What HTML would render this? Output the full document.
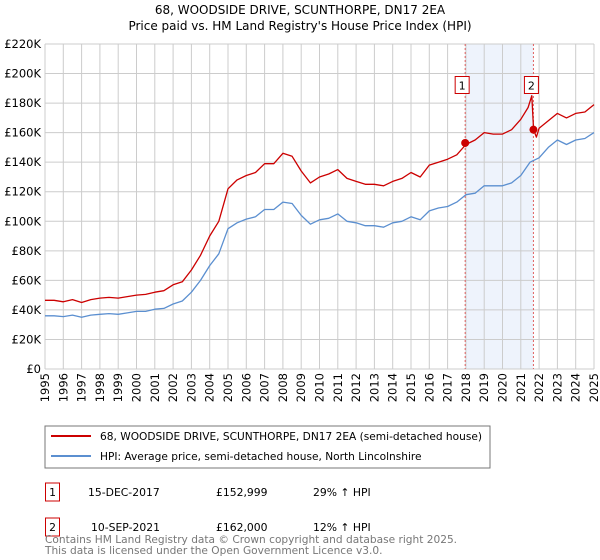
<!DOCTYPE html>
<html><head><meta charset="utf-8"><style>
body{margin:0;background:#fff;font-family:"Liberation Sans","DejaVu Sans",sans-serif;}
#wrap{position:relative;width:600px;height:560px;overflow:hidden;}
</style></head><body>
<div id="wrap">
<svg id="chart" width="600" height="560" font-family="'DejaVu Sans','Liberation Sans',sans-serif">
<text x="300" y="14" text-anchor="middle" font-size="12">68, WOODSIDE DRIVE, SCUNTHORPE, DN17 2EA</text>
<text x="300" y="30" text-anchor="middle" font-size="12">Price paid vs. HM Land Registry's House Price Index (HPI)</text>
<g id="grid"></g><g id="axes"></g><g id="series"></g>
<rect x="45" y="426" width="445" height="42" fill="#fff" stroke="#777"/>
<line x1="51" y1="436" x2="91" y2="436" stroke="#cc0000" stroke-width="2"/>
<text x="100" y="440" font-size="10.6">68, WOODSIDE DRIVE, SCUNTHORPE, DN17 2EA (semi-detached house)</text>
<line x1="51" y1="456" x2="91" y2="456" stroke="#5b8fd0" stroke-width="2"/>
<text x="100" y="460" font-size="10.6">HPI: Average price, semi-detached house, North Lincolnshire</text>
<g font-size="10.8">
<rect x="45.5" y="483" width="14" height="18" fill="none" stroke="#cc0000"/>
<text x="52.5" y="496" text-anchor="middle">1</text>
<text x="88" y="496">15-DEC-2017</text><text x="216" y="496">£152,999</text><text x="313" y="496">29% ↑ HPI</text>
<rect x="45.5" y="518" width="14" height="18" fill="none" stroke="#cc0000"/>
<text x="52.5" y="531" text-anchor="middle">2</text>
<text x="91" y="531">10-SEP-2021</text><text x="216" y="531">£162,000</text><text x="313" y="531">12% ↑ HPI</text>
</g>
<text x="45" y="543" font-size="10.6" fill="#777">Contains HM Land Registry data © Crown copyright and database right 2025.</text>
<text x="45" y="554" font-size="10.6" fill="#777">This data is licensed under the Open Government Licence v3.0.</text>
</svg></div>
<script>
const hpiYears=[1995,1995.5,1996,1996.5,1997,1997.5,1998,1998.5,1999,1999.5,2000,2000.5,2001,2001.5,2002,2002.5,2003,2003.5,2004,2004.5,2005,2005.5,2006,2006.5,2007,2007.5,2008,2008.5,2009,2009.5,2010,2010.5,2011,2011.5,2012,2012.5,2013,2013.5,2014,2014.5,2015,2015.5,2016,2016.5,2017,2017.5,2018,2018.5,2019,2019.5,2020,2020.5,2021,2021.5,2022,2022.5,2023,2023.5,2024,2024.5,2025];
const hpiValues=[36,36,35.5,36.5,35,36.5,37,37.5,37,38,39,39,40.5,41,44,46,52,60,70,78,95,99,101.5,103,108,108,113,112,104,98,101,102,105,100,99,97,97,96,99,100,103,101,107,109,110,113,118,119,124,124,124,126,131,140,143,150,155,152,155,156,160];
const priceYears=[1995,1995.5,1996,1996.5,1997,1997.5,1998,1998.5,1999,1999.5,2000,2000.5,2001,2001.5,2002,2002.5,2003,2003.5,2004,2004.5,2005,2005.5,2006,2006.5,2007,2007.5,2008,2008.5,2009,2009.5,2010,2010.5,2011,2011.5,2012,2012.5,2013,2013.5,2014,2014.5,2015,2015.5,2016,2016.5,2017,2017.5,2018,2018.5,2019,2019.5,2020,2020.5,2021,2021.4,2021.6,2021.7,2021.85,2022,2022.5,2023,2023.5,2024,2024.5,2025];
const priceValues=[46.5,46.5,45.5,47,45,47,48,48.5,48,49,50,50.5,52,53,57,59,67,77,90,100,122,128,131,133,139,139,146,144,134,126,130,132,135,129,127,125,125,124,127,129,133,130,138,140,142,145,152,155,160,159,159,162,169,177,185,162,157,163,168,173,170,173,174,179];
const saleYears=[2017.96,2021.69];
const saleValues=[152.999,162];
const yTicks=[0,20,40,60,80,100,120,140,160,180,200,220];
const xTicks=[1995,1996,1997,1998,1999,2000,2001,2002,2003,2004,2005,2006,2007,2008,2009,2010,2011,2012,2013,2014,2015,2016,2017,2018,2019,2020,2021,2022,2023,2024,2025];
const X0=45,X1=594,Y0=369,Y1=44;
const xs=y=>X0+(y-1995)/30*(X1-X0);
const ys=v=>Y0-v/220*(Y0-Y1);
const NS='http://www.w3.org/2000/svg';
function mk(p,t,a){const e=document.createElementNS(NS,t);for(const k in a)e.setAttribute(k,a[k]);p.appendChild(e);return e;}
const grid=document.getElementById('grid'),axes=document.getElementById('axes'),ser=document.getElementById('series');
const sh=mk(grid,'rect',{x:xs(saleYears[0]),y:Y1,width:xs(saleYears[1])-xs(saleYears[0]),height:Y0-Y1,fill:'#eef3fc'});


yTicks.forEach(v=>{
 const l=mk(grid,'line',{x1:X0,x2:X1,y1:ys(v),y2:ys(v),stroke:'#cccccc'});
 
 
 const t=mk(axes,'text',{x:X0-4,y:ys(v)+4,'text-anchor':'end','font-size':'11.5'});
 
 
 t.textContent=v===0?'£0':'£'+v+'K';
});
xTicks.forEach(v=>{
 const l=mk(grid,'line',{x1:xs(v),x2:xs(v),y1:Y1,y2:Y0,stroke:'#cccccc'});
 
 
 const t=mk(axes,'text',{x:0,y:0,'text-anchor':'end','font-size':'11.5',transform:`translate(${xs(v)+4},${Y0+4}) rotate(-90)`});
 
 
 t.textContent=v;
});
saleYears.forEach((y,i)=>{
 const l=mk(grid,'line',{x1:xs(y),x2:xs(y),y1:Y1,y2:Y0,stroke:'#e06060','stroke-dasharray':'2,2','stroke-width':1});
 
 
 const bx=xs(y)-(i===0?3:2);
 const r=mk(axes,'rect',{x:bx-7,y:ys(198),width:14,height:17,fill:'#fff',stroke:'#cc0000'});
 
 
 const t=mk(axes,'text',{x:bx,y:ys(198)+13,'text-anchor':'middle','font-size':'11'});
 
 
 t.textContent=i+1;
});
function line(yrs,vals,col,name){
 const d=yrs.map((y,i)=>(i?'L':'M')+xs(y).toFixed(1)+','+ys(vals[i]).toFixed(1)).join('');
 const p=mk(ser,'path',{d:d,fill:'none',stroke:col,'stroke-width':1.3,'stroke-linejoin':'round'});
 
 
}
line(hpiYears,hpiValues,'#5b8fd0','hpi-line');
line(priceYears,priceValues,'#cc0000','property-price-line');
saleYears.forEach((y,i)=>{
 const c=mk(ser,'circle',{cx:xs(y),cy:ys(saleValues[i]),r:4,fill:'#cc0000'});
 
 
});
</script>
</body></html>
